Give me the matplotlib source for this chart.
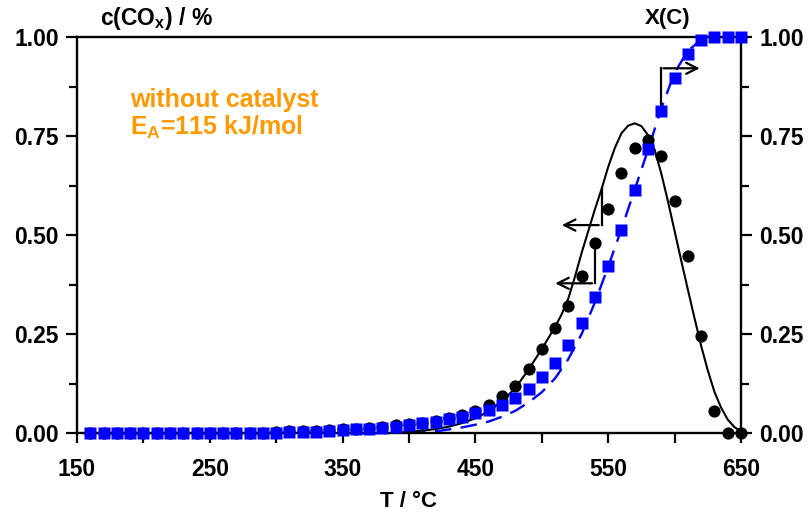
import matplotlib
matplotlib.use("Agg")
import matplotlib.pyplot as plt
from matplotlib.ticker import MultipleLocator

plt.rcParams['font.family'] = ['Liberation Sans', 'DejaVu Sans']
plt.rcParams['font.weight'] = 'bold'
plt.rcParams['mathtext.fontset'] = 'custom'
plt.rcParams['mathtext.rm'] = 'Liberation Sans:bold'
plt.rcParams['mathtext.it'] = 'Liberation Sans:bold'
plt.rcParams['mathtext.bf'] = 'Liberation Sans:bold'

# measured CO_x concentration (black circles)
T_c = list(range(160, 660, 10))
c_meas = [0, 0, 0, 0, 0, 0, 0, 0, 0, 0, 0, 0, 0, 0,
          0.003, 0.004, 0.005, 0.006, 0.008, 0.009, 0.011, 0.013, 0.016, 0.019,
          0.022, 0.026, 0.031, 0.037, 0.045, 0.056, 0.071, 0.093, 0.119, 0.161,
          0.213, 0.266, 0.321, 0.396, 0.479, 0.565, 0.656, 0.719, 0.740, 0.700,
          0.587, 0.448, 0.246, 0.056, 0.0, 0.0]

# measured conversion X(C) (blue squares)
X_meas = [0, 0, 0, 0, 0, 0, 0, 0, 0, 0, 0, 0, 0, 0,
          0.001, 0.002, 0.003, 0.003, 0.006, 0.008, 0.009, 0.011, 0.013, 0.016,
          0.020, 0.024, 0.028, 0.035, 0.040, 0.050, 0.058, 0.071, 0.088, 0.110,
          0.141, 0.178, 0.222, 0.277, 0.344, 0.422, 0.513, 0.614, 0.717, 0.814,
          0.896, 0.957, 0.992, 1.0, 1.0, 1.0]

# model curve for c(CO_x) (solid black)
T_cm = [390, 400, 410, 420, 430, 440, 450, 460, 470, 480, 490, 500, 510, 515,
        520, 525, 530, 535, 540, 545, 550, 555, 560, 565, 570, 575, 580, 585,
        590, 595, 600, 605, 610, 615, 620, 625, 630, 635, 640, 645, 650]
c_model = [0.0, 0.003, 0.006, 0.010, 0.016, 0.025, 0.037, 0.055, 0.080, 0.113,
           0.160, 0.212, 0.268, 0.300, 0.340, 0.395, 0.455, 0.510, 0.565, 0.616,
           0.672, 0.720, 0.757, 0.776, 0.782, 0.775, 0.752, 0.715, 0.655, 0.585,
           0.510, 0.435, 0.362, 0.290, 0.220, 0.158, 0.104, 0.064, 0.034, 0.015,
           0.004]

# model curve for X(C) (dashed blue)
T_xm = [400, 410, 420, 430, 440, 450, 460, 470, 480, 490, 500, 510, 520, 530,
        540, 550, 560, 570, 580, 590, 600, 610, 620, 630, 640, 650]
X_model = [0.0, 0.001, 0.004, 0.009, 0.014, 0.021, 0.029, 0.041, 0.056, 0.077,
           0.103, 0.138, 0.187, 0.250, 0.330, 0.420, 0.515, 0.615, 0.715, 0.820,
           0.910, 0.965, 0.993, 1.0, 1.0, 1.0]

x_ticks = [150, 250, 350, 450, 550, 650]
y_ticks = [0.0, 0.25, 0.5, 0.75, 1.0]

fig = plt.figure(figsize=(8.08, 5.13), dpi=100)
ax = fig.add_axes([77/808, 1-433/513, (741-77)/808, (433-37)/513])

ax.plot(T_xm, X_model, color='#0000FF', lw=1.7, dashes=(7, 4), zorder=2)
ax.plot(T_cm, c_model, color='black', lw=1.5, zorder=2)
ax.plot(T_c, c_meas, 'o', color='black', ms=8.8, mec='none', clip_on=False, zorder=3)
ax.plot(T_c, X_meas, 's', color='#0000FF', ms=8.6, mec='none', clip_on=False, zorder=4)

ax.set_xlim(150, 650)
ax.set_ylim(0, 1)
ax.set_xticks(x_ticks)
ax.xaxis.set_minor_locator(MultipleLocator(50))
ax.set_yticks(y_ticks)
ax.yaxis.set_minor_locator(MultipleLocator(0.125))
ax.set_yticklabels(['%.2f' % v for v in y_ticks])
ax.set_xticklabels([str(v) for v in x_ticks])
for s in ax.spines.values():
    s.set_linewidth(1.7)
ax.tick_params(axis='both', which='both', direction='out', width=1.6,
               labelsize=16.5, right=True, labelright=True)
ax.tick_params(axis='y', which='major', length=8, pad=5)
ax.tick_params(axis='y', which='minor', length=6)
ax.tick_params(axis='x', which='both', length=7, pad=11)
for lab in ax.get_xticklabels() + ax.get_yticklabels():
    lab.set_fontweight('bold')

ax.set_xlabel('T / °C', fontsize=16, fontweight='bold', labelpad=7)
fig.text(100/808, 1-19/513, 'c(CO$_{x}$) / %', fontsize=16.5, fontweight='bold',
         ha='left', va='center')
fig.text(668/808, 1-19/513, 'X(C)', fontsize=16, fontweight='bold',
         ha='center', va='center')

orange = '#FF9900'
ax.text(0.08, 0.84, 'without catalyst', transform=ax.transAxes, color=orange,
        fontsize=18, fontweight='bold', ha='left', va='center')
ax.text(0.08, 0.772, 'E$_{A}$=115 kJ/mol', transform=ax.transAxes, color=orange,
        fontsize=18, fontweight='bold', ha='left', va='center')

# arrows indicating axis assignment
arr = dict(arrowstyle='->', color='black', lw=1.6, mutation_scale=20)
ax.plot([545, 545], [0.619, 0.525], color='black', lw=1.6)
ax.annotate('', xy=(513, 0.525), xytext=(545, 0.525), arrowprops=arr)
ax.plot([540, 540], [0.479, 0.378], color='black', lw=1.6)
ax.annotate('', xy=(508, 0.378), xytext=(540, 0.378), arrowprops=arr)
ax.plot([589.5, 589.5], [0.828, 0.921], color='black', lw=1.6)
ax.annotate('', xy=(621, 0.921), xytext=(589.5, 0.921), arrowprops=arr)

fig.savefig('out.png', dpi=100)
